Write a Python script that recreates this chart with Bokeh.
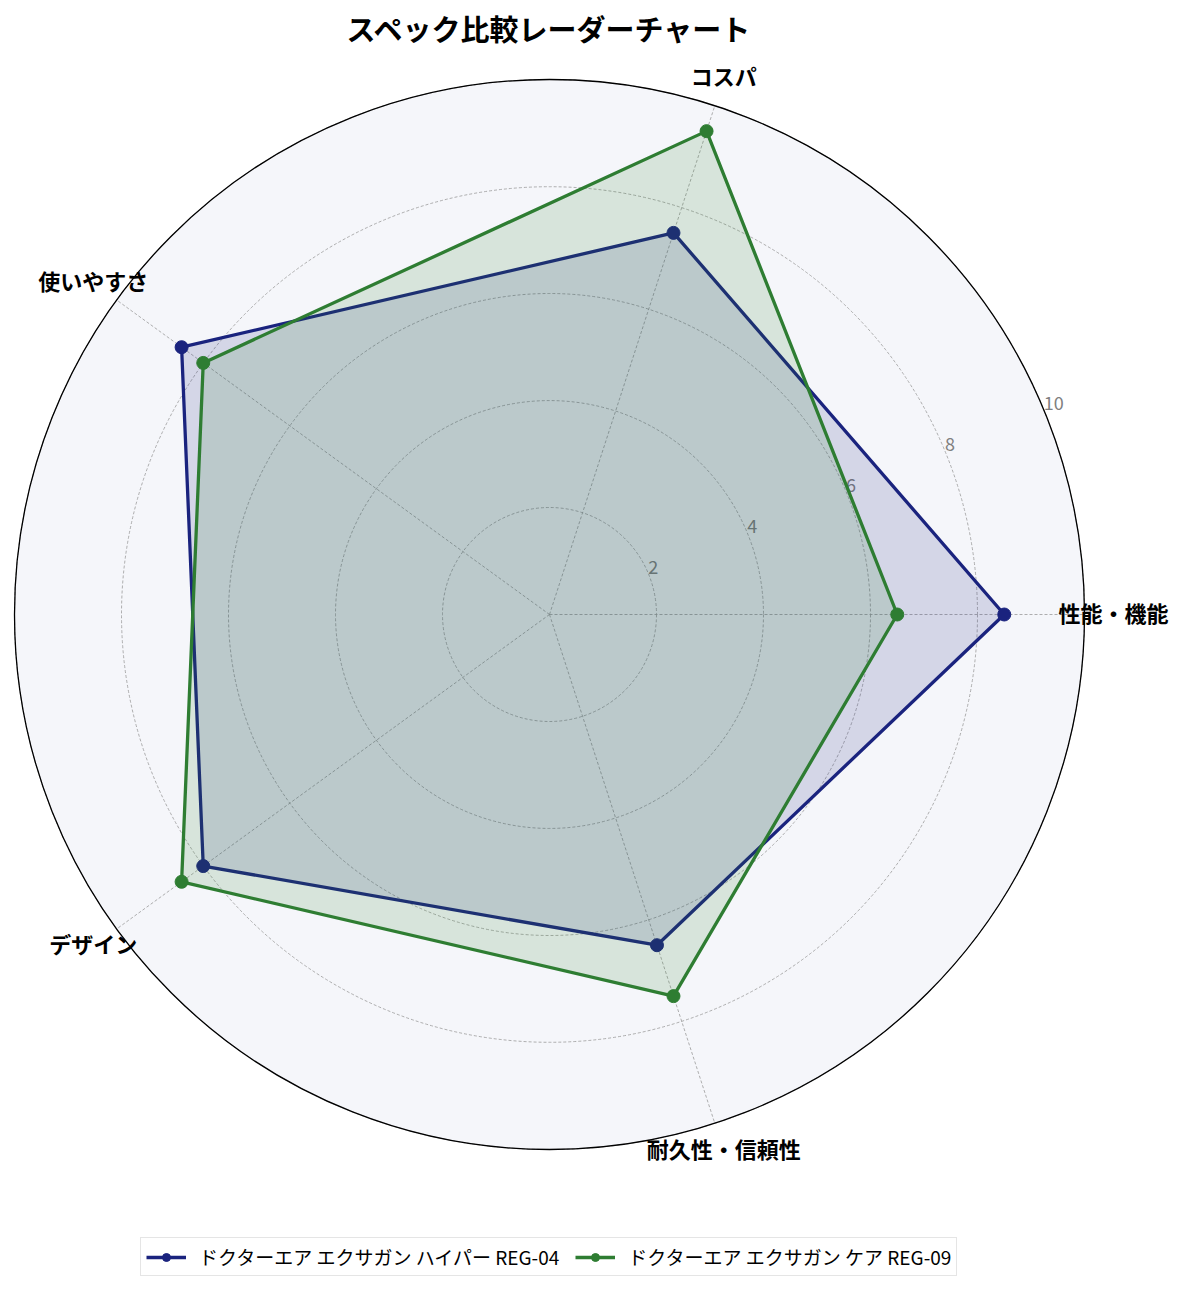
import numpy as np
from bokeh.plotting import figure
from bokeh.models import Range1d, Legend, LegendItem, Label
from bokeh.core.properties import value
from bokeh.embed import file_html
from bokeh.resources import INLINE

# ---- data ----
title_text = "スペック比較レーダーチャート"
categories = ["性能・機能", "コスパ", "使いやすさ", "デザイン", "耐久性・信頼性"]
series_names = ["ドクターエア エクサガン ハイパー REG-04", "ドクターエア エクサガン ケア REG-09"]
hyper_values = [8.5, 7.5, 8.5, 8.0, 6.5]
care_values = [6.5, 9.5, 8.0, 8.5, 7.5]
tick_values = [2, 4, 6, 8, 10]
r_max = 10
series_colors = ["#1a237e", "#2e7d32"]

# ---- layout ----
W, H = 1169, 1276
CX, CY = 549, 614      # radar centre in canvas pixels (from left / top)
S = 53.5               # pixels per value unit
FONT = "Noto Sans CJK JP"

p = figure(width=W, height=H, output_backend="svg", toolbar_location=None,
           x_range=Range1d(-CX / S, (W - CX) / S),
           y_range=Range1d(-(H - CY) / S, CY / S),
           min_border=0, outline_line_color=None)
p.axis.visible = False
p.grid.visible = False
p.background_fill_color = "white"

n = len(categories)
angles = np.arange(n) * 2 * np.pi / n

# background disc
p.circle(x=[0], y=[0], radius=r_max, fill_color="#f5f6fa", line_color=None)
# grid rings
p.circle(x=[0] * len(tick_values), y=[0] * len(tick_values), radius=tick_values,
         fill_color=None, line_color="#9a9a9a", line_width=0.8, line_dash="3 2")
# spokes
p.segment(x0=[0] * n, y0=[0] * n, x1=list(r_max * np.cos(angles)), y1=list(r_max * np.sin(angles)),
          line_color="#9a9a9a", line_width=0.8, line_dash="3 2")
# outer spine
p.circle(x=[0], y=[0], radius=r_max, fill_color=None, line_color="black", line_width=1.3)

# tick labels at 22.5 deg
la = np.deg2rad(22.5)
p.text(x=list(np.array(tick_values) * np.cos(la)), y=list(np.array(tick_values) * np.sin(la)),
       text=[str(t) for t in tick_values], text_align="left", text_baseline="bottom",
       text_color="#808080", text_font=value(FONT), text_font_size="18px")

items = []
for vals, name, col in zip([hyper_values, care_values], series_names, series_colors):
    v = np.array(vals)
    xs = list(v * np.cos(angles))
    ys = list(v * np.sin(angles))
    p.patch(x=xs, y=ys, fill_color=col, fill_alpha=0.15, line_color=None)
    ln = p.line(x=xs + xs[:1], y=ys + ys[:1], line_color=col, line_width=3.3)
    sc = p.scatter(x=xs, y=ys, size=13, fill_color=col, line_color=col)
    items.append(LegendItem(label=name, renderers=[ln, sc]))

# category labels
lr = 10.54
p.text(x=list(lr * np.cos(angles)), y=list(lr * np.sin(angles)), text=categories,
       text_align="center", text_baseline="middle", text_color="black", y_offset=-3,
       text_font=value(FONT), text_font_size="22px", text_font_style="bold")

# title
p.add_layout(Label(x=CX, y=H - 27, x_units="screen", y_units="screen", text=title_text,
                   text_align="center", text_baseline="middle", text_font=FONT,
                   text_font_size="29px", text_font_style="bold", text_color="black"))

legend = Legend(items=items, orientation="horizontal", location=(140, 0),
                label_text_font=FONT, label_text_font_size="19px", label_text_color="black",
                glyph_width=40, glyph_height=20, padding=5, spacing=16, margin=0,
                label_standoff=13, border_line_color="#cccccc", border_line_width=1.5,
                background_fill_color="white", background_fill_alpha=1.0)
p.add_layout(legend, "center")

open("out.html", "w").write(file_html(p, INLINE))
